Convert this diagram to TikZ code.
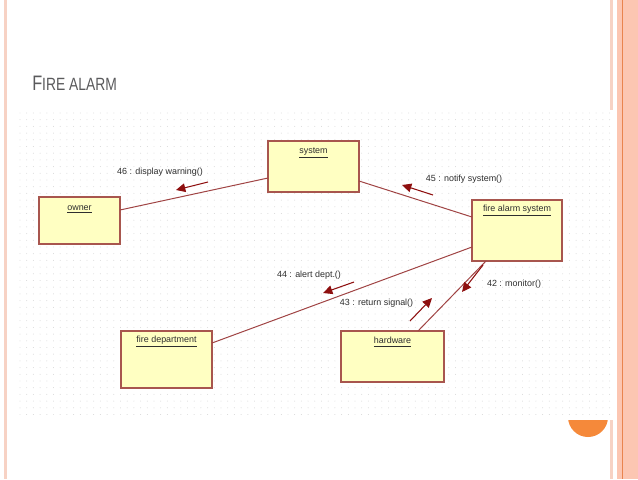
\documentclass[tikz,border=0pt]{standalone}
\usepackage{fontspec}
\setmainfont{Liberation Sans}
\usetikzlibrary{arrows.meta}
\definecolor{boxfill}{HTML}{FFFFC2}
\definecolor{boxline}{HTML}{A8564E}
\definecolor{linkc}{HTML}{A04444}
\definecolor{arrc}{HTML}{8E0F0F}
\definecolor{txtc}{HTML}{2E2E2E}
\definecolor{titlec}{HTML}{5A5A5C}
\definecolor{peach}{HTML}{FCC6B2}
\definecolor{peachlt}{HTML}{F7D2C4}
\definecolor{orangedk}{HTML}{E9844E}
\definecolor{dotc}{HTML}{D6D6D6}
\definecolor{circc}{HTML}{F5893A}
\begin{document}
\begin{tikzpicture}[x=0.75pt,y=-0.75pt,
  obj/.style={draw=boxline, fill=boxfill, line width=0.8pt, inner sep=0pt, outer sep=0pt},
  objname/.style={font=\fontsize{6.7}{8}\selectfont, text=txtc, inner sep=0pt},
  msglabel/.style={font=\fontsize{6.7}{8}\selectfont, text=txtc, inner sep=0pt},
  link/.style={draw=linkc, line width=0.75pt},
  msg/.style={draw=arrc, line width=0.8pt, -{Triangle[length=7pt,width=6.5pt]}}]
\useasboundingbox (0,0) rectangle (638,479);
\fill[white] (0,0) rectangle (638,479);
% slide decorations
\fill[peachlt] (4,0) rectangle (7,479);
\fill[peachlt] (610,0) rectangle (613,479);
\fill[peach] (617,0) rectangle (638,479);
\fill[orangedk] (621.8,0) rectangle (623,479);
\fill[circc] (588,417) circle (20);
% diagram image area
\fill[white] (18,110) rectangle (613,420);
\foreach \i in {0,...,88} {
  \foreach \j in {0,...,45} {
    \fill[dotc] (20+\i*6.7, 113+\j*6.7) circle (0.35pt);
  }
}
% title
\node[anchor=base west, inner sep=0pt, text=titlec] (title) at (32,90.7)
  {\scalebox{0.78}[1]{\fontsize{15.7}{18}\selectfont F\fontsize{13.3}{16}\selectfont IRE ALARM}};
% objects
\node[obj, minimum width=68.25pt, minimum height=38.25pt] (sys) at (313.5,166.5) {};
\node[obj, minimum width=60.75pt, minimum height=35.25pt] (owner) at (79.5,220.5) {};
\node[obj, minimum width=67.5pt, minimum height=45.75pt] (fas) at (517,230.5) {};
\node[obj, minimum width=68.25pt, minimum height=42.75pt] (fd) at (166.5,359.5) {};
\node[obj, minimum width=77.25pt, minimum height=38.25pt] (hw) at (392.5,356.5) {};
\node[objname] (sysl) at (313.5,153) {\underline{system}};
\node[objname] (ownerl) at (79.5,209) {\underline{owner}};
\node[objname] (fasl) at (517,211) {\underline{fire alarm system}};
\node[objname] (fdl) at (166.5,342) {\underline{fire department}};
\node[objname] (hwl) at (392.5,342) {\underline{hardware}};
% links
\draw[link] (owner.east |- 0,210) -- (sys.west |- 0,178);
\draw[link] (sys.east |- 0,181) -- (fas.west |- 0,217);
\draw[link] (fas.west |- 0,247) -- (fd.east |- 0,343);
\draw[link] (486,0 |- fas.south) -- (418,0 |- hw.north);
% message arrows
\coordinate (m46a) at (208,182); \coordinate (m46b) at (176,190);
\coordinate (m45a) at (433,195); \coordinate (m45b) at (402,185);
\coordinate (m44a) at (354,282); \coordinate (m44b) at (323,293);
\coordinate (m43a) at (410,321); \coordinate (m43b) at (432,298);
\coordinate (m42a) at (483,265); \coordinate (m42b) at (462,292);
\draw[msg] (m46a) -- (m46b);
\draw[msg] (m45a) -- (m45b);
\draw[msg] (m44a) -- (m44b);
\draw[msg] (m43a) -- (m43b);
\draw[msg] (m42a) -- (m42b);
\node[msglabel] (l46) at (160,172) {46 : display warning()};
\node[msglabel] (l45) at (464,179) {45 : notify system()};
\node[msglabel] (l44) at (309,275) {44 : alert dept.()};
\node[msglabel] (l43) at (376.5,303) {43 : return signal()};
\node[msglabel] (l42) at (514,284) {42 : monitor()};
\end{tikzpicture}
\end{document}
